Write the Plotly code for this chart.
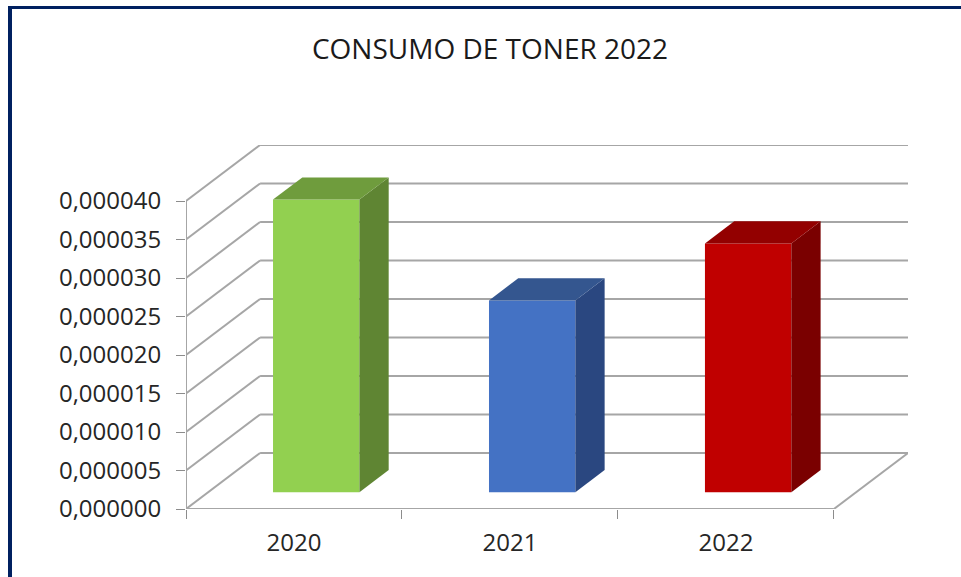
import plotly.graph_objects as go

# Data
categories = ["2020", "2021", "2022"]
values = [0.0000380, 0.0000249, 0.0000323]
front_colors = ["#92D050", "#4472C4", "#C00000"]
top_colors = ["#6F9C3D", "#34568F", "#930000"]
side_colors = ["#5F8533", "#2A4780", "#7A0000"]
y_ticks = [0, 0.000005, 0.00001, 0.000015, 0.00002, 0.000025, 0.00003, 0.000035, 0.00004]
y_labels = ["0,000000", "0,000005", "0,000010", "0,000015", "0,000020",
            "0,000025", "0,000030", "0,000035", "0,000040"]
title_text = "CONSUMO DE TONER 2022"

# Page geometry
W, H = 961, 577
L, R, T, B = 186, 908, 145, 509
UNIT_X = (833 - 186) / 3
UNIT_Y = 38.5 / 5e-6
# Depth vector of the pseudo-3D box, in data units
DX = 74 / UNIT_X
DY = 56 / UNIT_Y
D0, D1 = 0.30, 0.695   # bar front and back as a fraction of floor depth
BAR_W = 0.40
GRID = "#A6A6A6"
FONT = "Open Sans"
TEXT = "#262626"

fig = go.Figure()

n = len(categories)
ymax = y_ticks[-1]

# Walls and floor, behind the traces
def seg(x0, y0, x1, y1):
    fig.add_shape(type="line", xref="x", yref="y", x0=x0, y0=y0, x1=x1, y1=y1,
                  layer="below", line=dict(color=GRID, width=2))

for t in y_ticks:
    seg(0, t, DX, t + DY)          # side wall
    seg(DX, t + DY, n + DX, t + DY)  # back wall
seg(0, 0, n, 0)                    # front floor edge
seg(n, 0, n + DX, DY)              # right floor edge
seg(0, 0, 0, ymax)                 # vertical axis

# Front faces as real bars
fig.add_trace(go.Bar(
    x=[i + 0.5 + D0 * DX for i in range(n)],
    y=values,
    base=[D0 * DY] * n,
    width=BAR_W,
    marker=dict(color=front_colors, line=dict(width=0)),
    showlegend=False,
))

# Top and side faces
for i, v in enumerate(values):
    x0 = i + 0.5 - BAR_W / 2 + D0 * DX
    x1 = x0 + BAR_W
    y0 = D0 * DY
    y1 = y0 + v
    ddx = (D1 - D0) * DX
    ddy = (D1 - D0) * DY
    fig.add_trace(go.Scatter(
        x=[x1, x1 + ddx, x1 + ddx, x1, x1],
        y=[y0, y0 + ddy, y1 + ddy, y1, y0],
        mode="lines", line=dict(width=0), fill="toself",
        fillcolor=side_colors[i], showlegend=False, hoverinfo="skip"))
    fig.add_trace(go.Scatter(
        x=[x0, x1, x1 + ddx, x0 + ddx, x0],
        y=[y1, y1, y1 + ddy, y1 + ddy, y1],
        mode="lines", line=dict(width=0), fill="toself",
        fillcolor=top_colors[i], showlegend=False, hoverinfo="skip"))

# Slide frame (navy left and top rules)
for (a, b, c, d) in [(8, 6, 12, H), (8, 6, W, 9)]:
    fig.add_shape(type="rect", xref="paper", yref="paper",
                  x0=(a - L) / (R - L), x1=(c - L) / (R - L),
                  y0=(B - d) / (B - T), y1=(B - b) / (B - T),
                  fillcolor="#002060", line=dict(width=0), layer="above")

fig.update_layout(
    width=W, height=H,
    margin=dict(l=L, r=W - R, t=T, b=H - B, pad=0),
    paper_bgcolor="white", plot_bgcolor="white",
    showlegend=False,
    font=dict(family=FONT, color=TEXT),
    title=dict(text=title_text, font=dict(family=FONT, size=28, color="#1A1A1A"),
               x=490 / W, xref="container", xanchor="center",
               y=1 - 49 / H, yref="container", yanchor="middle"),
    xaxis=dict(range=[0, n + DX], tickmode="array",
               tickvals=[i + 0.5 for i in range(n)], ticktext=categories,
               showgrid=False, zeroline=False, showline=False, ticks="",
               tickfont=dict(family=FONT, size=24, color=TEXT),
               ticklabelstandoff=17,
               minor=dict(tickmode="array", tickvals=list(range(n + 1)),
                          ticks="outside", ticklen=9, tickwidth=1, tickcolor="#8C8C8C",
                          showgrid=False)),
    yaxis=dict(range=[0, (B - T) / UNIT_Y], tickmode="array",
               tickvals=y_ticks, ticktext=y_labels,
               showgrid=False, zeroline=False, showline=False,
               ticks="outside", ticklen=9, tickwidth=1, tickcolor="#8C8C8C",
               tickfont=dict(family=FONT, size=24, color=TEXT),
               ticklabelstandoff=10),
)

fig.write_html("out.html", config={"displayModeBar": False},
               post_script="document.body.style.margin='0';document.body.style.overflow='hidden';")
